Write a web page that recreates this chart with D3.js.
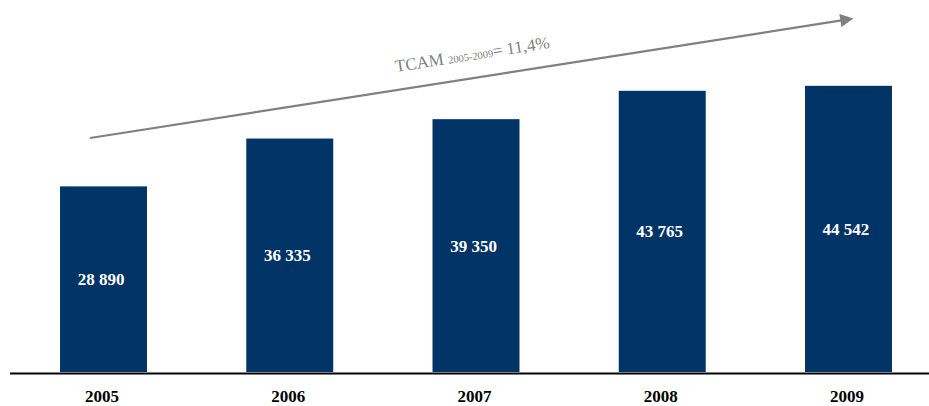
<!DOCTYPE html>
<html><head><meta charset="utf-8">
<script src="https://cdn.jsdelivr.net/npm/d3@7"></script>
<style>html,body{margin:0;padding:0;background:#fff;}svg{display:block;}</style>
</head><body>
<script>
const years = ["2005","2006","2007","2008","2009"];
const values = [28890, 36335, 39350, 43765, 44542];
const valueLabels = ["28 890","36 335","39 350","43 765","44 542"];
const cagrLabel = {main:"TCAM ", sub:"2005-2009", rest:"= 11,4%"};

const W = 929, H = 406;
const svg = d3.select("body").append("svg").attr("width", W).attr("height", H);
const baseY = 372;
const x = d3.scaleBand().domain(years).range([10.4, 941.6]).paddingInner(0.533).paddingOuter(0.2665);
const y = d3.scaleLinear().domain([0, 57900]).range([baseY, 0]);

svg.selectAll("rect.bar").data(values).join("rect").attr("class","bar")
  .attr("x", (d,i)=>x(years[i])).attr("width", x.bandwidth())
  .attr("y", d=>y(d)).attr("height", d=>baseY - y(d)).attr("fill", "#003366");

svg.selectAll("text.val").data(values).join("text").attr("class","val")
  .attr("x", (d,i)=>x(years[i]) + x.bandwidth()/2 - 2.5)
  .attr("y", d=>(y(d)+baseY)/2 + 6)
  .attr("text-anchor","middle").attr("fill","#fff")
  .attr("font-family","'Liberation Serif', 'Times New Roman', serif")
  .attr("font-weight","bold").attr("font-size","17px")
  .text((d,i)=>valueLabels[i]);

svg.append("line").attr("x1",10).attr("x2",929).attr("y1",373.5).attr("y2",373.5)
  .attr("stroke","#000").attr("stroke-width",2);

svg.selectAll("text.year").data(years).join("text").attr("class","year")
  .attr("x", d=>x(d) + x.bandwidth()/2 - 1.5).attr("y", 402)
  .attr("text-anchor","middle").attr("fill","#000")
  .attr("font-family","'Liberation Serif', 'Times New Roman', serif")
  .attr("font-weight","bold").attr("font-size","17px")
  .text(d=>d);

// arrow
const defs = svg.append("defs");
defs.append("marker").attr("id","ah").attr("viewBox","0 0 10 10").attr("refX",2).attr("refY",5)
  .attr("markerWidth",7).attr("markerHeight",6).attr("orient","auto").attr("markerUnits","strokeWidth")
  .append("path").attr("d","M0,0 L10,5 L0,10 Z").attr("fill","#808080");
svg.append("line").attr("x1",90).attr("y1",138).attr("x2",843).attr("y2",20.2)
  .attr("stroke","#808080").attr("stroke-width",2.2).attr("marker-end","url(#ah)");

const ang = Math.atan2(120, 767) * 180 / Math.PI;
const t = svg.append("text").attr("transform",`translate(396,72) rotate(${-ang})`)
  .attr("font-family","'Liberation Serif', 'Times New Roman', serif")
  .attr("font-size","17px").attr("fill","#808080");
t.append("tspan").text(cagrLabel.main);
t.append("tspan").attr("font-size","10.5px").text(cagrLabel.sub);
t.append("tspan").text(cagrLabel.rest);
</script>
</body></html>
